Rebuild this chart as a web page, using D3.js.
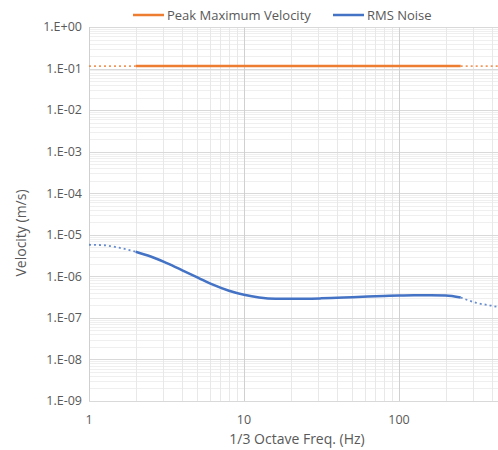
<!DOCTYPE html>
<html>
<head>
<meta charset="utf-8">
<script src="https://cdn.jsdelivr.net/npm/d3@7"></script>
<style>
  body { margin: 0; background: #fff; }
  svg { font-family: "Open Sans", sans-serif; }
</style>
</head>
<body>
<div id="chart"></div>
<script>
// 1/3 octave band centres and measured values
var freqs = [2, 2.5, 3.15, 4, 5, 6.3, 8, 10, 12.5, 16, 20, 25, 31.5, 40, 50, 63, 80, 100, 125, 160, 200, 250];
var rmsNoise = [3.9e-6, 3.0e-6, 2.1e-6, 1.4e-6, 9.5e-7, 6.3e-7, 4.5e-7, 3.6e-7, 3.1e-7, 2.9e-7, 2.9e-7, 2.9e-7,
    2.95e-7, 3.05e-7, 3.15e-7, 3.25e-7, 3.35e-7, 3.45e-7, 3.5e-7, 3.5e-7, 3.45e-7, 3.1e-7];
var peakVelocity = 0.115;

// dotted extrapolation at both ends
var rmsLowFreqs = [1, 1.25, 1.6, 2];
var rmsLowValues = [5.75e-6, 5.6e-6, 4.8e-6, 3.9e-6];
var rmsHighFreqs = [250, 315, 400, 500];
var rmsHighValues = [3.1e-7, 2.3e-7, 1.95e-7, 1.6e-7];
var peakLowFreqs = [1, 2];
var peakHighFreqs = [250, 500];

var yTicks = [1, 1e-1, 1e-2, 1e-3, 1e-4, 1e-5, 1e-6, 1e-7, 1e-8, 1e-9];
var yTickLabels = ["1.E+00", "1.E-01", "1.E-02", "1.E-03", "1.E-04", "1.E-05", "1.E-06", "1.E-07", "1.E-08", "1.E-09"];
var xTicks = [1, 10, 100];

var width = 498, height = 450;
var margin = {top: 27, left: 89, bottom: 49};

var ORANGE = "#ED7D31", BLUE = "#4472C4", TEXT = "#595959";

var svg = d3.select("#chart").append("svg")
    .attr("width", width).attr("height", height);

var x = d3.scaleLog().domain([1, 1000]).range([margin.left, margin.left + 3 * 155]);
var y = d3.scaleLog().domain([1e-9, 1]).range([height - margin.bottom, margin.top]);

// minor grid
var minorX = [], minorY = [];
[1, 10, 100].forEach(function(d) {
    for (var k = 2; k <= 9; k++) minorX.push(d * k);
});
yTicks.slice(1).forEach(function(d) {
    for (var k = 2; k <= 9; k++) minorY.push(d * k);
});

var grid = svg.append("g");
grid.selectAll("line.minor-y").data(minorY).enter().append("line")
    .attr("x1", margin.left).attr("x2", width)
    .attr("y1", function(d) { return Math.round(y(d)) + 0.5; })
    .attr("y2", function(d) { return Math.round(y(d)) + 0.5; })
    .attr("stroke", "#efefef").attr("stroke-width", 1);
grid.selectAll("line.minor-x").data(minorX).enter().append("line")
    .attr("y1", margin.top).attr("y2", height - margin.bottom)
    .attr("x1", function(d) { return Math.round(x(d)) + 0.5; })
    .attr("x2", function(d) { return Math.round(x(d)) + 0.5; })
    .attr("stroke", "#e8e8e8").attr("stroke-width", 1);
grid.selectAll("line.major-y").data(yTicks).enter().append("line")
    .attr("x1", margin.left).attr("x2", width)
    .attr("y1", function(d) { return Math.round(y(d)) + 0.5; })
    .attr("y2", function(d) { return Math.round(y(d)) + 0.5; })
    .attr("stroke", "#d9d9d9").attr("stroke-width", 1);
grid.selectAll("line.major-x").data(xTicks).enter().append("line")
    .attr("y1", margin.top).attr("y2", height - margin.bottom)
    .attr("x1", function(d) { return Math.round(x(d)) + 0.5; })
    .attr("x2", function(d) { return Math.round(x(d)) + 0.5; })
    .attr("stroke", "#d0d0d0").attr("stroke-width", 1);

// tick labels
svg.append("g").selectAll("text").data(yTicks).enter().append("text")
    .attr("x", margin.left - 7).attr("y", function(d) { return y(d); })
    .attr("dy", "0.35em").attr("text-anchor", "end")
    .attr("font-size", 12.5).attr("fill", TEXT)
    .text(function(d, i) { return yTickLabels[i]; });
svg.append("g").selectAll("text").data(xTicks).enter().append("text")
    .attr("x", function(d) { return x(d); }).attr("y", height - margin.bottom + 23)
    .attr("text-anchor", "middle")
    .attr("font-size", 12.5).attr("fill", TEXT)
    .text(function(d) { return d; });

// axis titles
svg.append("text")
    .attr("x", 297).attr("y", 444).attr("text-anchor", "middle")
    .attr("font-size", 14).attr("fill", TEXT)
    .text("1/3 Octave Freq. (Hz)");
svg.append("text")
    .attr("transform", "translate(26,233) rotate(-90)")
    .attr("text-anchor", "middle")
    .attr("font-size", 14).attr("fill", TEXT)
    .text("Velocity (m/s)");

var line = d3.line()
    .x(function(d) { return x(d[0]); })
    .y(function(d) { return y(d[1]); })
    .curve(d3.curveMonotoneX);

function pairs(fs, vs) {
    return fs.map(function(f, i) { return [f, vs[i]]; });
}

// peak maximum velocity
var peakConst = function(fs) { return fs.map(function() { return peakVelocity; }); };
svg.append("path").datum(pairs(peakLowFreqs, peakConst(peakLowFreqs)))
    .attr("d", line).attr("fill", "none").attr("stroke", ORANGE)
    .attr("stroke-width", 1.8).attr("stroke-dasharray", "2,3").attr("opacity", 0.8);
svg.append("path").datum(pairs(peakHighFreqs, peakConst(peakHighFreqs)))
    .attr("d", line).attr("fill", "none").attr("stroke", ORANGE)
    .attr("stroke-width", 1.8).attr("stroke-dasharray", "2,3").attr("opacity", 0.8);
svg.append("path").datum(pairs(freqs, peakConst(freqs)))
    .attr("d", line).attr("fill", "none").attr("stroke", ORANGE).attr("stroke-width", 2.5);

// RMS noise
svg.append("path").datum(pairs(rmsLowFreqs, rmsLowValues))
    .attr("d", line).attr("fill", "none").attr("stroke", BLUE)
    .attr("stroke-width", 1.8).attr("stroke-dasharray", "2,3").attr("opacity", 0.8);
svg.append("path").datum(pairs(rmsHighFreqs, rmsHighValues))
    .attr("d", line).attr("fill", "none").attr("stroke", BLUE)
    .attr("stroke-width", 1.8).attr("stroke-dasharray", "2,3").attr("opacity", 0.8);
svg.append("path").datum(pairs(freqs, rmsNoise))
    .attr("d", line).attr("fill", "none").attr("stroke", BLUE).attr("stroke-width", 2.5);

// legend
var legend = [
    {name: "Peak Maximum Velocity", color: ORANGE, x: 133},
    {name: "RMS Noise", color: BLUE, x: 333}
];
var lg = svg.append("g").selectAll("g").data(legend).enter().append("g")
    .attr("transform", function(d) { return "translate(" + d.x + ",15)"; });
lg.append("line").attr("x1", 0).attr("x2", 31).attr("y1", 0).attr("y2", 0)
    .attr("stroke", function(d) { return d.color; }).attr("stroke-width", 2.5);
lg.append("text").attr("x", 34).attr("dy", "0.35em")
    .attr("font-size", 13).attr("fill", TEXT)
    .text(function(d) { return d.name; });
</script>
</body>
</html>
